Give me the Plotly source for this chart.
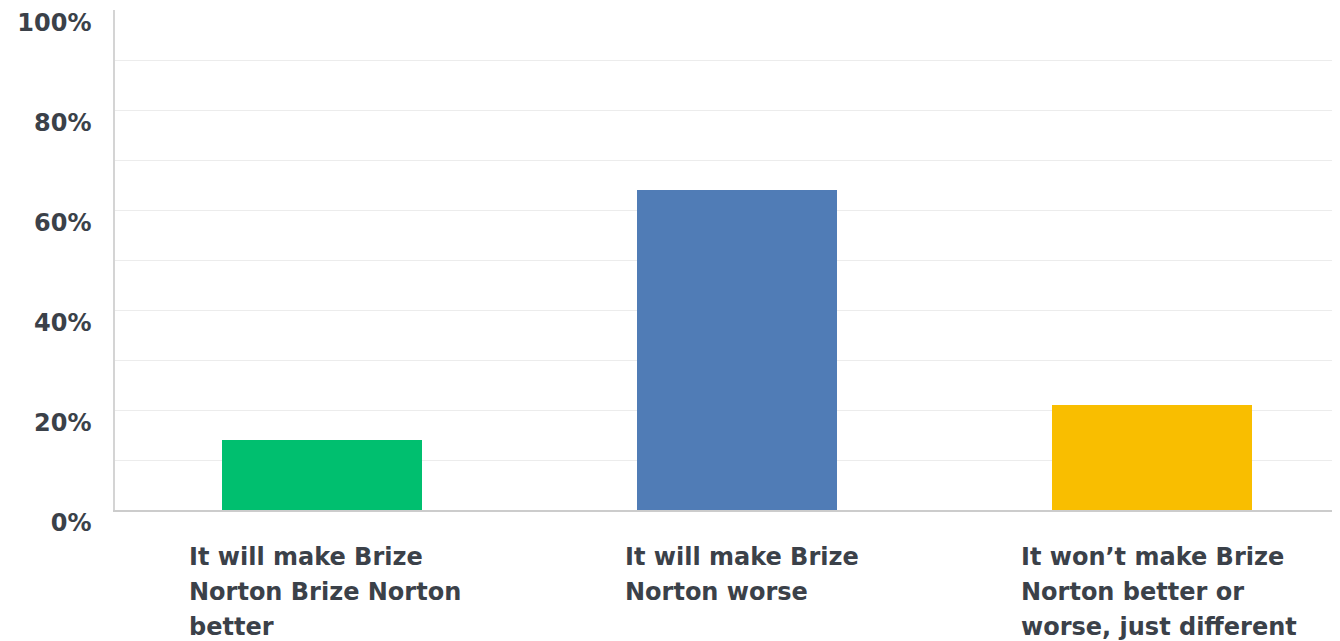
import plotly.graph_objects as go

categories = [
    "It will make Brize Norton Brize Norton better",
    "It will make Brize Norton worse",
    "It won’t make Brize Norton better or worse, just different",
]
label_lines = [
    ["It will make Brize", "Norton Brize Norton", "better"],
    ["It will make Brize", "Norton worse"],
    ["It won’t make Brize", "Norton better or", "worse, just different"],
]
values = [14, 64, 21]
colors = ["#00BF6F", "#507CB6", "#F9BE00"]
ytick_vals = [0, 20, 40, 60, 80, 100]
ytick_text = ["0%", "20%", "40%", "60%", "80%", "100%"]
grid_vals = [10, 20, 30, 40, 50, 60, 70, 80, 90]

TEXT = "#3b4149"
FONT = "DejaVu Sans"
label_xshift = [-135, -114, -133]

fig = go.Figure()
fig.add_trace(go.Bar(
    x=categories, y=values, marker=dict(color=colors, line=dict(width=0)),
    width=0.482, hoverinfo="skip",
))
fig.add_trace(go.Scatter(x=[categories[0]], y=[None], yaxis="y2",
                         showlegend=False, hoverinfo="skip"))

annotations = []
for i, (cat, lines) in enumerate(zip(categories, label_lines)):
    for j, line in enumerate(lines):
        annotations.append(dict(
            x=cat, xref="x", y=0, yref="paper", yanchor="top", xanchor="left",
            xshift=label_xshift[i], yshift=-31 - 35 * j, showarrow=False,
            text=line, align="left",
            font=dict(family=FONT, size=24, color=TEXT, weight="bold"),
        ))

# page body adds an 8px offset; figure is sized to fill the remaining window
fig.update_layout(
    width=1332, height=633,
    margin=dict(l=107, r=0, t=2, b=131),
    plot_bgcolor="white", paper_bgcolor="white",
    showlegend=False,
    bargap=0,
    annotations=annotations,
    xaxis=dict(
        type="category", range=[-0.5, 2.453], showticklabels=False,
        showgrid=False, showline=True, linecolor="#cccccc", linewidth=1.5,
        ticks="", zeroline=False, fixedrange=True,
    ),
    yaxis=dict(
        range=[0, 100], tickvals=ytick_vals, ticktext=ytick_text,
        showgrid=False, zeroline=False, showline=True, linecolor="#d4d4d4",
        linewidth=1.5, ticks="", ticklabelshift=13, ticklabelstandoff=17,
        tickfont=dict(family=FONT, size=24, color=TEXT, weight="bold"),
        fixedrange=True,
    ),
    yaxis2=dict(
        range=[0, 100], overlaying="y", tickvals=grid_vals, showticklabels=False,
        showgrid=True, gridcolor="#ececec", gridwidth=1.2, zeroline=False,
        showline=False, ticks="", fixedrange=True,
    ),
)

fig.write_html("out.html")
